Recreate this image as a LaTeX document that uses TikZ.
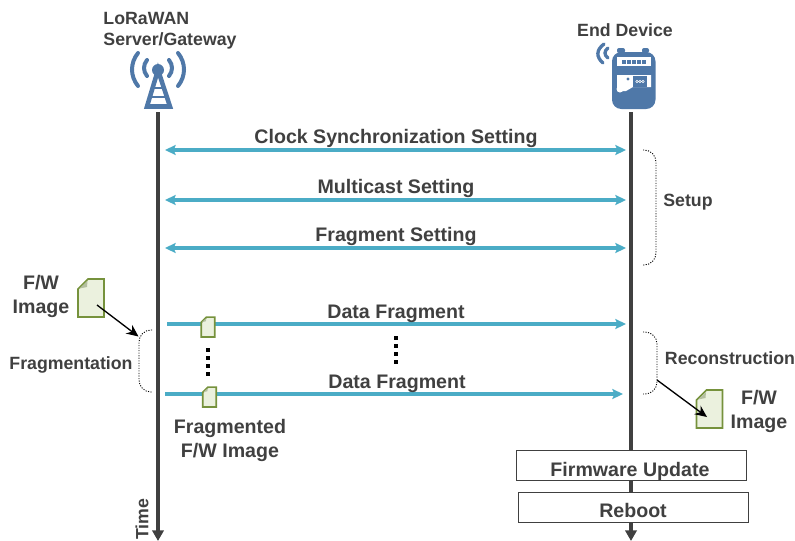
\documentclass[tikz,border=0pt]{standalone}
\usepackage{fontspec}
\setmainfont{Liberation Sans}
\usetikzlibrary{arrows.meta}
\definecolor{lifegray}{HTML}{404040}
\definecolor{msgteal}{HTML}{4BACC6}
\definecolor{iconblue}{HTML}{4F78A8}
\definecolor{docline}{HTML}{76923C}
\definecolor{docfill}{HTML}{EBF1DE}
\definecolor{docfold}{HTML}{B4BFA0}
\begin{document}
\begin{tikzpicture}[
    x=0.75pt, y=-0.75pt,
    every node/.style={align=center, font=\bfseries\fontsize{14.7}{18}\selectfont, text=lifegray, inner sep=0pt},
    smalltext/.style={font=\bfseries\fontsize{13.3}{16}\selectfont},
    lifeline/.style={draw=lifegray, line width=2.9pt, -{Triangle[length=8pt, width=8.5pt]}},
    msgboth/.style={draw=msgteal, line width=2.8pt, {Stealth[length=8pt, width=7.5pt, inset=1.5pt]}-{Stealth[length=8pt, width=7.5pt, inset=1.5pt]}},
    msgone/.style={draw=msgteal, line width=2.8pt, -{Stealth[length=8pt, width=7.5pt, inset=1.5pt]}},
    bracket/.style={draw=black, line width=0.7pt, dash pattern=on 0.8pt off 1.1pt, rounded corners=9pt},
    pointer/.style={draw=black, line width=1pt, -{Stealth[length=9pt, width=8pt]}},
    fragdots/.style={draw=black, line width=3pt, dash pattern=on 3pt off 3pt},
    stepbox/.style={draw=lifegray, line width=0.75pt, fill=white, minimum width=172.5pt, minimum height=22.5pt},
    docicon/.style={minimum width=#1*19.5pt+2pt, minimum height=#1*28.5pt+2pt, path picture={
        \draw[draw=docline, fill=docfill, line width=1.3pt, shift={(path picture bounding box.center)}, x=#1*0.75pt, y=#1*-0.75pt]
            (-13,-9) -- (-3,-19) -- (13,-19) -- (13,19) -- (-13,19) -- cycle;
        \fill[docfold, shift={(path picture bounding box.center)}, x=#1*0.75pt, y=#1*-0.75pt]
            (-11.5,-9.5) -- (-3.5,-17) -- (-4,-11) -- cycle;
    }}
]
\useasboundingbox (0,0) rectangle (795,540);

\coordinate (serverTop) at (158,112);
\coordinate (serverEnd) at (158,541);
\coordinate (deviceTop) at (631,112);
\coordinate (deviceEnd) at (631,541);
\draw[lifeline] (serverTop) -- (serverEnd);
\draw[lifeline] (deviceTop) -- (deviceEnd);

\foreach \name/\txt/\y in {clock/Clock Synchronization Setting/150, multicast/Multicast Setting/200, fragment/Fragment Setting/248} {
    \coordinate (\name L) at (165,\y);
    \coordinate (\name R) at (626,\y);
    \draw[msgboth] (\name L) -- (\name R);
    \node (\name Label) at (396,\y-12) {\txt};
}
\coordinate (dataOneL) at (167,324);
\coordinate (dataOneR) at (626,324);
\coordinate (dataTwoL) at (165,394);
\coordinate (dataTwoR) at (623,394);
\draw[msgone] (dataOneL) -- (dataOneR);
\draw[msgone] (dataTwoL) -- (dataTwoR);
\node (dataOneLabel) at (396,313.5) {Data Fragment};
\node (dataTwoLabel) at (397,383.5) {Data Fragment};

\node (serverLabel) at (170,30.5) [align=left, smalltext] {LoRaWAN\\Server/Gateway};
\node (deviceLabel) at (625,30) [smalltext] {End Device};
\node (setupLabel) at (688,202) [smalltext] {Setup};
\node (reconLabel) at (730,358) [smalltext] {Reconstruction};
\node (fragLabel) at (71,365) [smalltext] {Fragmentation};
\node (fwLeftLabel) at (41,296) {F/W\\Image};
\node (fwRightLabel) at (759,411) {F/W\\Image};
\node (fragmentedLabel) at (230,440) {Fragmented\\F/W Image};
\node (timeLabel) at (142,519) [rotate=90, smalltext] {Time};

\node (fwLeft) at (91,298) [docicon=1] {};
\node (fwRight) at (709.5,409) [docicon=1] {};
\node (pieceOne) at (208,327) [docicon=0.52] {};
\node (pieceTwo) at (209.5,397) [docicon=0.52] {};

\node (updateBox) at (631,465.5) [stepbox] {};
\node (updateLabel) at (630,471) {Firmware Update};
\node (rebootBox) at (633,507) [stepbox] {};
\node (rebootLabel) at (633,510) {Reboot};

\coordinate (setupA) at (643,150);
\coordinate (setupB) at (656,150);
\coordinate (setupC) at (656,265);
\coordinate (setupD) at (643,265);
\draw[bracket] (setupA) -- (setupB) -- (setupC) -- (setupD);
\coordinate (fragA) at (152,330);
\coordinate (fragB) at (139,330);
\coordinate (fragC) at (139,392);
\coordinate (fragD) at (152,392);
\draw[bracket] (fragA) -- (fragB) -- (fragC) -- (fragD);
\coordinate (reconA) at (643,332);
\coordinate (reconB) at (657,332);
\coordinate (reconC) at (657,394);
\coordinate (reconD) at (643,394);
\draw[bracket] (reconA) -- (reconB) -- (reconC) -- (reconD);

\coordinate (fwLeftFrom) at (97,305);
\coordinate (fragTip) at (138.5,336.5);
\coordinate (reconFrom) at (657,380);
\coordinate (fwRightTip) at (707,417);
\draw[pointer] (fwLeftFrom) -- (fragTip);
\draw[pointer] (reconFrom) -- (fwRightTip);

\draw[fragdots] (208,348) -- (208,376);
\draw[fragdots] (396,336) -- (396,364);

\draw[iconblue, line width=3.4pt, line cap=round] (158,70) -- (147,106.5) -- (170,106.5) -- cycle;
\draw[iconblue, line width=2.2pt] (153,88) -- (163,88) (150,97) -- (166,97);
\fill[iconblue] (158,70) circle [radius=6];
\draw[iconblue, line width=3pt, line cap=round] (147,60) .. controls (143,65) and (143,71) .. (147,76);
\draw[iconblue, line width=3pt, line cap=round] (169,60) .. controls (173,65) and (173,71) .. (169,76);
\draw[iconblue, line width=3pt, line cap=round] (138,53) .. controls (130,63) and (130,76) .. (138,86);
\draw[iconblue, line width=3pt, line cap=round] (178,53) .. controls (186,63) and (186,76) .. (178,86);

\fill[iconblue, rounded corners=1.5pt] (617,53) rectangle (625,48);
\fill[iconblue, rounded corners=1.5pt] (642,53) rectangle (649,48);
\fill[iconblue, rounded corners=7pt] (612,52) rectangle (655.5,109);
\fill[white] (617,57) rectangle (651,66);
\foreach \x in {622,627,632,637,642} {
    \fill[iconblue] (\x,59.5) rectangle (\x+4,64);
}
\fill[white] (617,75) -- (651,75) -- (651,87) -- (633,87) -- (626,91) -- (617,91) -- cycle;
\fill[white] (620,89) circle [radius=3.5];
\fill[iconblue] (628,79) circle [radius=1.7];
\fill[iconblue] (633,76) rectangle (647,87);
\draw[white, line width=0.4pt] (637,81.5) circle [radius=1.3] (640,81.5) circle [radius=1.3] (643,81.5) circle [radius=1.3];
\draw[iconblue, line width=2.5pt, line cap=round] (604,44) .. controls (596,50) and (596,57) .. (603,63);
\draw[iconblue, line width=2.5pt, line cap=round] (608,48) .. controls (604,51) and (604,55) .. (608,58);
\end{tikzpicture}
\end{document}
